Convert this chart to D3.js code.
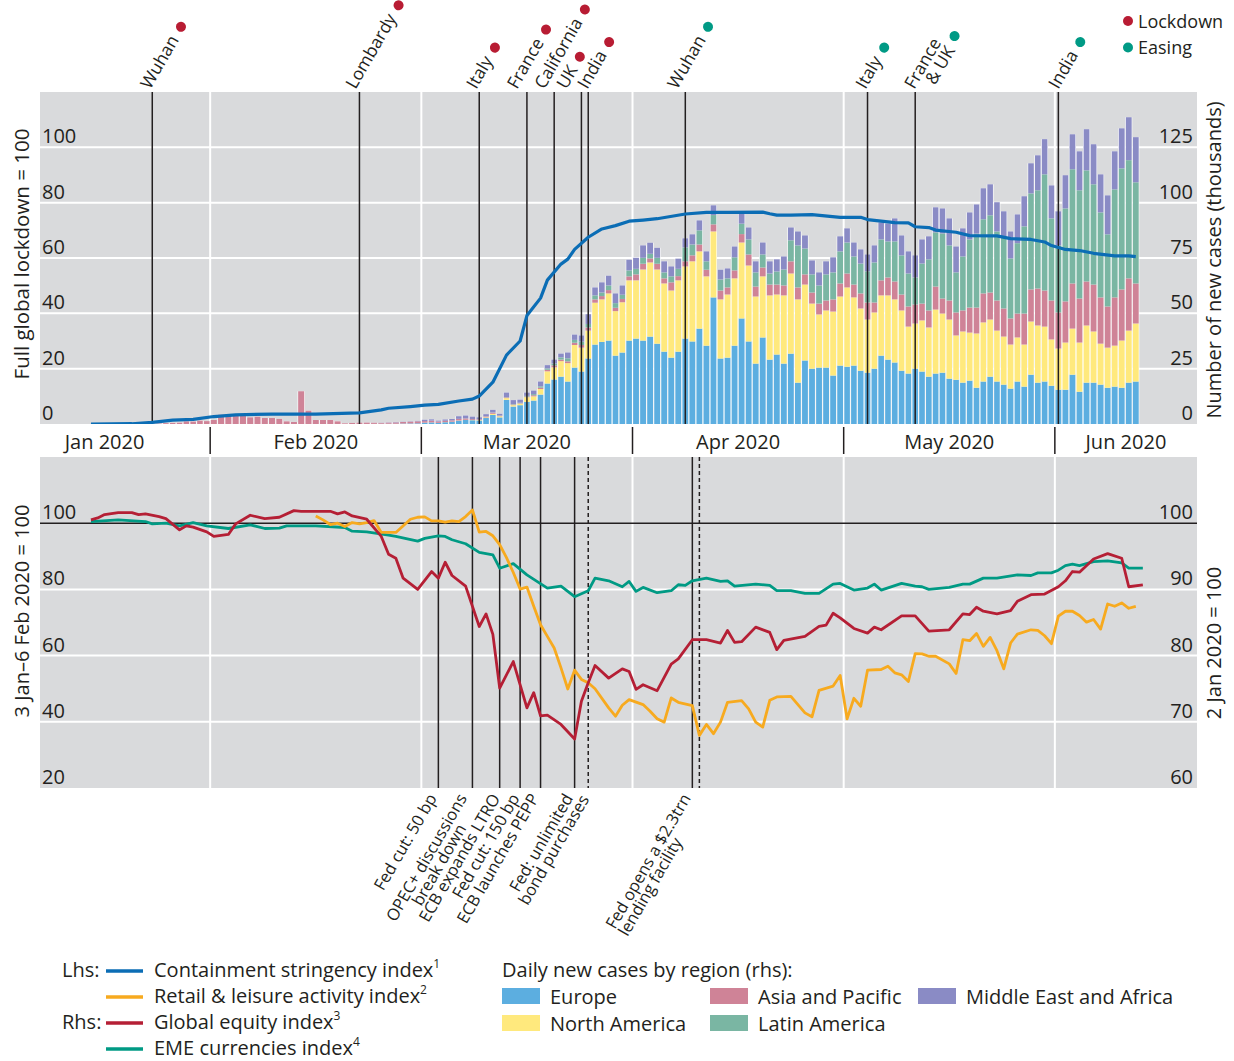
<!DOCTYPE html>
<html>
<head>
<meta charset="utf-8">
<script src="https://cdn.jsdelivr.net/npm/d3@7"></script>
<style>
  body { margin: 0; background: #fff; }
  svg { display: block; }
  text { font-family: "Open Sans", "Noto Sans", sans-serif; fill: #231f20; }
</style>
</head>
<body>
<svg id="chart" width="1234" height="1061"></svg>
<script>
// ---------------- Data ----------------
// Daily new cases by region (thousands), one value per day from 21 Jan 2020
const caseStart = "2020-01-21";
const europe = [
  0,0,0,0,0,0,0,0,0,0,0,
  0,0,0,0,0,0,0,0,0,0,0,0,0,0,0,0,0,0,0,0,0.01,0.02,0.05,0.1,0.1,0.1,0.2,0.25,0.3,
  0.6,0.7,0.5,0.8,1.0,1.5,1.8,1.7,1.6,2.7,4.1,3.0,10.9,7.9,8.5,10,10.6,13.3,18.3,20.1,21.4,19.2,25.5,23.7,29.6,35.9,37.1,37.7,30.9,32.3,37.7,
  38.6,37.7,39.5,36.3,32.7,30,32.7,38.6,37.3,43.1,35.4,57.2,29.6,30,35.4,47.7,37.3,27.3,39.1,29.1,31.4,27.3,31.8,18.7,28.7,25,25.5,25.5,21.9,26.4,
  25.9,26.4,24.1,23.2,25,30.9,29.1,27.8,24.1,22.8,25,23.7,21.4,22.8,23.2,20.5,20,18.7,19.6,16.4,19.2,21.4,19.2,17.8,16,19.2,16.9,22.3,18.7,19.2,17.3,
  15.5,15.5,22.3,14.6,18.7,18.7,17.8,16.4,16.9,16.4,18.7,19.2
];
const northAmerica = [
  0,0,0,0,0,0,0,0,0,0,0,
  0,0,0,0,0,0,0,0,0,0,0,0,0,0,0,0,0,0,0,0,0,0,0,0,0,0,0,0,0,
  0.02,0.02,0.03,0.05,0.05,0.1,0.1,0.1,0.2,0.3,0.5,0.5,0.8,0.6,0.7,2.1,1.9,2.5,5.5,5.5,7.0,8.3,10.2,10.8,12.6,18.9,19.2,21.3,20.1,22.7,27.2,
  26.3,32.1,33.5,33.5,30.8,30.3,32.2,32.6,36.2,34.9,31.3,29.8,26.7,28.5,30.4,34.3,34.3,30.3,27.6,29.0,27.1,30.8,36.2,37.6,34.3,29.4,24.0,25.8,28.9,31.2,
  35.8,30.8,28.1,24.0,25.4,27.2,29.0,28.5,27.2,21.2,20.4,23.1,22.2,28.9,26.7,26.7,20.0,23.1,21.7,24.5,26.7,25.8,23.0,21.7,19.9,19.9,19.0,24.0,25.8,24.8,20.9,
  18.6,21.3,20.8,22.2,25.8,23.1,18.5,18.1,18.5,21.3,23.5,26.2
];
const asiaPacific = [
  0.05,0.1,0.1,0.2,0.4,0.5,0.6,1.2,1.1,1.5,1.3,
  1.8,4.2,3.8,3.8,3.8,3.0,3.3,2.7,2.7,2.3,1.2,0.9,14.8,6.0,1.8,1.8,1.8,1.2,0.3,0.5,0.6,0.6,0.5,0.4,0.5,0.6,0.7,0.8,0.9,
  0.7,0.8,0.6,0.6,0.6,0.7,0.6,0.4,0.3,0.4,0.5,0.2,0.3,0.3,0.2,0.3,0.5,0.6,0.7,0.9,0.7,0.8,1.0,1.2,1.4,1.5,1.5,1.5,1.5,1.5,1.8,
  2.7,2.6,1.8,2.6,2.3,3.7,1.9,2.3,2.7,3.1,3.0,3.2,4.0,3.2,3.6,3.8,5.0,4.5,4.0,4.9,4.5,4.5,5.5,5.4,4.6,5.0,4.9,4.5,5.5,5.9,
  6.3,5.8,6.8,7.7,4.5,6.8,8.1,8.1,7.2,9.1,8.6,7.6,7.7,10.4,6.8,8.6,10.4,9.5,11.3,11.7,13.1,12.2,13.6,12.7,11.8,10.8,14.0,14.5,16.7,16.3,17.6,
  16.3,18.6,20.4,19.9,19.9,21.2,20.9,18.6,21.8,23.1,23.6,18.1
];
const latinAmerica = [
  0,0,0,0,0,0,0,0,0,0,0,
  0,0,0,0,0,0,0,0,0,0,0,0,0,0,0,0,0,0,0,0,0,0,0,0,0,0,0,0,0,
  0,0,0,0.01,0.01,0.02,0.03,0.03,0.03,0.05,0.1,0.1,0.1,0.2,0.2,0.3,0.5,0.6,0.6,0.8,1.0,1.4,1.3,1.5,1.6,1.8,1.6,2.1,2.1,1.9,2.7,
  2.5,2.7,2.1,2.7,2.7,2.7,3.3,6.3,4.9,6.4,3.8,4.2,5.0,4.1,5.9,4.7,6.8,6.4,5.9,5.0,5.9,7.2,9.5,19.0,11.7,8.2,8.2,11.8,12.2,14.5,
  14.0,12.7,13.5,14.1,18.1,18.5,16.3,18.1,17.7,14.9,12.2,18.1,23.1,24.5,29.4,24.9,18.1,24.4,30.8,33.4,33.5,34.9,31.2,32.6,27.1,31.8,39.4,43.4,44.4,52.5,37.1,
  30.3,42.0,51.6,48.9,50.2,45.3,38.4,32.6,48.8,54.7,53.4,45.7
];
const middleEastAfrica = [
  0,0,0,0,0,0,0,0,0,0,0,
  0,0,0,0,0,0,0,0,0,0,0,0,0,0,0,0,0,0,0,0,0.01,0.02,0.03,0.05,0.1,0.15,0.1,0.15,0.2,
  0.6,0.6,0.4,0.6,0.6,1.2,1.3,1.1,0.9,1.0,1.2,0.8,2.1,1.8,1.4,1.5,1.6,2.2,1.5,1.8,1.7,2.6,2.4,2.8,4.4,3.6,4.6,4.4,4.4,4.2,4.8,
  5.0,5.6,5.0,4.5,5.0,4.5,4.6,4.1,4.6,4.5,4.5,4.4,4.4,4.5,4.9,4.8,5.4,5.0,5.4,5.5,5.5,5.9,5.8,6.3,5.9,6.3,5.9,5.9,6.8,6.8,
  6.4,6.3,6.4,7.6,7.7,7.7,8.1,10.4,9.0,10,10,10.9,10.4,11.3,11.3,12.2,11.7,12.7,12.2,13.2,14.0,14.0,13.2,11.3,12.2,13.0,13.6,13.6,15.8,15.9,14.9,
  15.4,15.0,15.8,17.6,18.6,18.1,17.2,17.6,17.2,18.1,19.4,20.4
];
const regionNames = ["Europe", "North America", "Asia and Pacific", "Latin America", "Middle East and Africa"];

// Containment stringency index (lhs, full global lockdown = 100)
const stringencyDates = ["01-14","01-20","01-23","01-26","01-29","02-01","02-04","02-09","02-15","02-21","02-24","02-25","02-28",
  "03-01","03-03","03-06","03-08","03-09","03-11","03-13","03-15","03-16","03-18","03-19","03-21","03-22","03-23","03-25","03-27","03-29","03-31",
  "04-02","04-04","04-08","04-11","04-14","04-19","04-20","04-21","04-23","04-26","04-30",
  "05-03","05-04","05-08","05-10","05-11","05-13","05-14","05-17","05-19","05-23","05-25","05-28","05-30","05-31",
  "06-02","06-04","06-06","06-09","06-11","06-12"];
const stringencyValues = [0,0.1,0.6,1.4,1.7,2.7,3.3,3.6,3.6,4.0,5.1,5.7,6.3,
  6.8,7.1,8.3,9.0,10.1,15.1,24.9,30.0,39.2,45.5,52.0,57.8,59.6,63.1,67.5,70.5,71.7,73.3,
  73.7,74.2,75.9,76.5,76.5,76.6,76.0,75.5,75.5,75.7,74.7,
  74.7,73.9,72.8,72.7,71.3,71.0,70.1,69.3,68.1,68.0,67.0,66.7,65.8,64.5,
  63.1,62.7,61.7,60.8,60.8,60.5];

// Retail & leisure activity index (lhs, 3 Jan-6 Feb 2020 = 100)
const retailDates = ["02-15","02-16","02-17","02-18","02-19","02-20","02-21","02-22","02-23","02-24","02-26","02-28","02-29",
  "03-01","03-02","03-03","03-04","03-05","03-06","03-07","03-08","03-09","03-10","03-11","03-12","03-13","03-14","03-15","03-16","03-17","03-18","03-19","03-20","03-21","03-22","03-23","03-24","03-25","03-26","03-28","03-29","03-30","03-31",
  "04-02","04-03","04-04","04-05","04-06","04-07","04-09","04-10","04-11","04-12","04-13","04-14","04-16","04-17","04-18","04-19","04-20","04-21","04-23","04-25","04-26","04-27","04-29","04-30",
  "05-01","05-02","05-03","05-04","05-06","05-07","05-08","05-09","05-10","05-11","05-12","05-13","05-14","05-16","05-17","05-18","05-19","05-20","05-21","05-22","05-23","05-24","05-25","05-26","05-28","05-29","05-30","05-31",
  "06-01","06-02","06-03","06-04","06-05","06-06","06-07","06-08","06-09","06-10","06-11","06-12"];
const retailValues = [102.2,101.0,99.6,100.0,99.0,100.2,99.8,100.2,100.8,97.2,97.2,101.2,101.8,
  101.9,100.7,100.7,100.3,100.7,100.5,102.0,104.0,97.3,97.5,96.2,93.5,89.6,85.1,80.1,80.7,74.9,69.3,65.8,62.3,56.3,49.9,55.6,52.8,51.8,50.0,44.2,41.7,45.0,46.7,
  45.2,43.2,40.9,39.9,47.2,45.9,44.9,35.9,39.2,36.4,39.9,45.9,46.4,43.9,39.9,38.4,46.5,47.5,47.7,42.7,41.5,49.5,50.8,54.0,
  40.9,47.1,44.7,55.6,55.8,56.8,54.8,54.2,52.2,60.6,60.5,59.8,59.8,57.5,54.6,64.8,64.5,66.7,62.8,65.5,61.5,56.0,63.8,66.5,67.8,67.6,66.0,63.6,
  71.9,73.4,73.4,72.1,70.1,70.9,68.0,75.6,74.9,75.9,74.3,74.9];

// Global equity index (rhs, 2 Jan 2020 = 100)
const equityDates = ["01-14","01-15","01-16","01-18","01-20","01-21","01-22","01-24","01-25","01-27","01-28","01-29","01-31",
  "02-01","02-03","02-04","02-06","02-08","02-10","02-12","02-13","02-17","02-18","02-19","02-20","02-22","02-24","02-25","02-26","02-27","02-29",
  "03-02","03-03","03-04","03-05","03-07","03-09","03-10","03-11","03-12","03-14","03-16","03-17","03-18","03-19","03-21","03-23","03-24","03-25","03-26","03-28","03-30","03-31",
  "04-01","04-02","04-04","04-06","04-07","04-09","04-11","04-13","04-14","04-15","04-16","04-18","04-20","04-21","04-22","04-25","04-27","04-28","04-29","04-30",
  "05-02","05-04","05-05","05-06","05-09","05-11","05-13","05-16","05-18","05-19","05-20","05-21","05-23","05-25","05-26","05-28","05-30",
  "06-01","06-02","06-03","06-04","06-06","06-08","06-10","06-11","06-13"];
const equityValues = [100.5,100.8,101.3,101.6,101.6,101.3,101.4,101.0,100.7,99.0,99.6,99.4,98.7,
  98.0,98.3,99.9,101.2,100.7,100.9,101.9,101.8,101.8,101.4,101.7,101.1,100.6,98.0,95.3,94.7,91.7,90.0,
  92.7,91.7,94.1,92.1,90.5,84.4,86.3,83.2,75.1,79.1,72.1,74.4,70.9,71.0,69.6,67.4,73.1,75.9,78.5,76.6,78.0,77.6,
  74.9,75.6,74.7,78.7,79.5,82.4,82.4,81.9,83.8,82.0,82.1,84.3,83.5,80.9,82.3,82.9,84.4,84.6,86.4,85.7,
  84.1,83.4,84.3,83.9,86.0,86.0,83.7,83.9,86.3,86.2,87.3,86.7,86.3,86.8,88.2,89.2,89.3,
  90.4,91.3,92.7,92.6,94.6,95.4,94.7,90.4,90.7];

// EME currencies index (rhs, 2 Jan 2020 = 100)
const fxDates = ["01-14","01-18","01-22","01-23","01-25","01-27","01-29","01-31",
  "02-03","02-06","02-08","02-10","02-11","02-15","02-19","02-20","02-22","02-25","02-26","02-29",
  "03-01","03-03","03-04","03-05","03-07","03-09","03-11","03-12","03-14","03-16","03-19","03-21","03-23","03-25","03-26","03-28","03-30","03-31",
  "04-01","04-02","04-04","04-06","04-07","04-08","04-09","04-11","04-13","04-14","04-15","04-18","04-20","04-21","04-23","04-25","04-27","04-29","04-30",
  "05-02","05-04","05-05","05-06","05-09","05-11","05-12","05-13","05-16","05-18","05-19","05-21","05-23","05-26","05-28","05-29","05-31",
  "06-01","06-02","06-03","06-04","06-06","06-08","06-10","06-11","06-13"];
const fxValues = [100.25,100.5,100.25,99.9,100.0,99.6,100.1,99.6,
  99.2,99.75,99.2,99.25,99.6,99.6,99.35,98.8,98.7,98.2,98.0,97.3,
  97.7,98.1,98.0,97.5,96.9,95.6,95.2,93.2,93.9,92.2,90.2,90.5,88.9,89.8,91.7,91.3,90.4,91.2,
  89.7,90.3,89.5,89.8,90.7,90.6,91.3,91.7,91.2,91.3,90.5,90.8,90.6,89.8,89.8,89.4,89.4,90.8,90.9,
  89.9,90.2,90.8,89.9,90.9,90.5,90.4,90.0,90.3,90.8,90.8,91.7,91.7,92.2,92.1,92.5,92.5,
  92.9,93.6,93.8,93.6,94.2,94.3,94.0,93.2,93.2];

// Lockdown and easing events (top panel)
const lockdownNames = [["Wuhan"],["Lombardy"],["Italy"],["France"],["California"],["UK"],["India"]];
const lockdownDates = ["01-23","02-21","03-09","03-16","03-20","03-24","03-25"];
const easingNames = [["Wuhan"],["Italy"],["France","& UK"],["India"]];
const easingDates = ["04-08","05-04","05-11","06-01"];

// Policy events (bottom panel)
const policyNames = [["Fed cut: 50 bp"],["OPEC+ discussions","break down"],["ECB expands LTRO"],["Fed cut: 150 bp"],
  ["ECB launches PEPP"],["Fed: unlimited","bond purchases"],["Fed opens a $2.3trn","lending facility"]];
const policyDates = ["03-03","03-08","03-12","03-15","03-18","03-23","04-09"];
const dashedDates = ["03-25","04-10"];

// Axis ticks
const topLeftTicks = [0,20,40,60,80,100];
const topRightTicks = [0,25,50,75,100,125];
const botLeftTicks = [20,40,60,80,100];
const botRightTicks = [60,70,80,90,100];

// ---------------- Layout & styles ----------------
const colors = {
  europe: "#5caee0", northAmerica: "#ffe97d", asiaPacific: "#cf8397",
  latinAmerica: "#7ab6a3", middleEastAfrica: "#8a8bc5",
  stringency: "#0b6db5", retail: "#f7aa1f", equity: "#b51f35", fx: "#009a84",
  lockdown: "#b81c33", easing: "#009a85", panel: "#d9dadc", ink: "#231f20"
};
const regionKeys = ["europe","northAmerica","asiaPacific","latinAmerica","middleEastAfrica"];
const plotL = 40, plotR = 1197;
const topP = { t: 92, b: 424 }, botP = { t: 457, b: 788 };
const labelNudgeLock = [-2, -4, -3, -10, -10, -15, -1];
const labelNudgeEase = [-8, -2, -1, 0];
const policyNudge = [0, -4, 2, 1, 0, 0, 0];
const policyAlign = ["end", "middle", "end", "end", "end", "middle", "start"];

const parse = d3.timeParse("%Y-%m-%d");
const day = s => parse("2020-" + s);
const mid = d => d3.timeHour.offset(d, 12);

// Equal-width months on the time axis
const months = d3.timeMonth.range(new Date(2020, 0, 1), new Date(2020, 7, 1));
const monthW = 211.17;
const x = d3.scaleTime().domain(months).range(months.map((m, i) => -1 + i * monthW));

const yTopL = d3.scaleLinear().domain([0, 120]).range([topP.b, topP.t]);
const yTopR = d3.scaleLinear().domain([0, 150]).range([topP.b, topP.t]);
const yBotL = d3.scaleLinear().domain([20, 120]).range([botP.b, botP.t]);
const yBotR = d3.scaleLinear().domain([60, 110]).range([botP.b, botP.t]);

const svg = d3.select("#chart");
const defs = svg.append("defs");
defs.append("clipPath").attr("id", "clipTop").append("rect")
  .attr("x", plotL).attr("y", topP.t).attr("width", plotR - plotL).attr("height", topP.b - topP.t);
defs.append("clipPath").attr("id", "clipBot").append("rect")
  .attr("x", plotL).attr("y", botP.t).attr("width", plotR - plotL).attr("height", botP.b - botP.t);

const monthBounds = months.slice(1, 6); // Feb 1 .. Jun 1

// ---------- panel backgrounds and grids ----------
function panel(p, ticks, yScale) {
  const g = svg.append("g");
  g.append("rect").attr("x", plotL).attr("y", p.t).attr("width", plotR - plotL).attr("height", p.b - p.t)
    .attr("fill", colors.panel);
  g.selectAll("line.h").data(ticks).join("line")
    .attr("x1", plotL).attr("x2", plotR)
    .attr("y1", d => yScale(d)).attr("y2", d => yScale(d))
    .attr("stroke", "#fff").attr("stroke-width", 2);
  g.selectAll("line.v").data(monthBounds).join("line")
    .attr("x1", d => x(d)).attr("x2", d => x(d))
    .attr("y1", p.t).attr("y2", p.b)
    .attr("stroke", "#fff").attr("stroke-width", 2);
  return g;
}
panel(topP, topLeftTicks.filter(v => v > 0), yTopL);
panel(botP, botLeftTicks.filter(v => v > 20 && v < 100), yBotL);

// ---------- stacked case bars ----------
const caseDays = europe.map((v, i) => d3.timeDay.offset(parse(caseStart), i));
const rows = caseDays.map((d, i) => ({
  date: d, europe: europe[i], northAmerica: northAmerica[i], asiaPacific: asiaPacific[i],
  latinAmerica: latinAmerica[i], middleEastAfrica: middleEastAfrica[i]
}));
const series = d3.stack().keys(regionKeys)(rows);
const total = d => regionKeys.reduce((s, k) => s + d[k], 0);
const barsG = svg.append("g").attr("clip-path", "url(#clipTop)");
barsG.selectAll("rect.back").data(rows).join("rect")
  .attr("x", d => x(d.date)).attr("width", d => x(d3.timeDay.offset(d.date, 1)) - x(d.date))
  .attr("y", d => yTopR(total(d)))
  .attr("height", d => yTopR(0) - yTopR(total(d)))
  .attr("fill", "#fff");
barsG.selectAll("g.layer").data(series).join("g")
  .attr("fill", s => colors[s.key])
  .selectAll("rect").data(s => s).join("rect")
  .attr("x", d => x(d.data.date) + 0.6)
  .attr("width", d => x(d3.timeDay.offset(d.data.date, 1)) - x(d.data.date) - 1.2)
  .attr("y", d => yTopR(d[1]))
  .attr("height", d => Math.max(0, yTopR(d[0]) - yTopR(d[1])));

// ---------- event lines, top panel ----------
const evG = svg.append("g");
[...lockdownDates, ...easingDates].forEach(s => {
  const px = x(mid(day(s)));
  evG.append("line").attr("x1", px).attr("x2", px).attr("y1", topP.t).attr("y2", topP.b)
    .attr("stroke", colors.ink).attr("stroke-width", 1.5);
});

// stringency line
const lineTopG = svg.append("g").attr("clip-path", "url(#clipTop)");
lineTopG.append("path")
  .datum(stringencyDates.map((s, i) => [day(s), stringencyValues[i]]))
  .attr("fill", "none").attr("stroke", colors.stringency).attr("stroke-width", 3.2)
  .attr("stroke-linejoin", "round")
  .attr("d", d3.line().x(d => x(mid(d[0]))).y(d => yTopL(d[1])));

// event labels with dots, top panel
function topLabel(lines, s, nudge, dotColor) {
  const px = x(mid(day(s))) + nudge;
  const g = svg.append("g").attr("transform", `translate(${px},90) rotate(-60)`)
    .style("font-size", "17.5px");
  const t1 = g.append("text").attr("x", 0).attr("y", 0).text(lines[0]);
  const L1 = t1.node().getComputedTextLength();
  if (lines[1]) {
    g.append("text").attr("x", L1).attr("y", 16).attr("text-anchor", "end").text(lines[1]);
  }
  g.append("circle").attr("cx", L1 + 12).attr("cy", lines[1] ? 8 : -5).attr("r", 5).attr("fill", dotColor);
}
lockdownNames.forEach((n, i) => topLabel(n, lockdownDates[i], labelNudgeLock[i], colors.lockdown));
easingNames.forEach((n, i) => topLabel(n, easingDates[i], labelNudgeEase[i], colors.easing));

// legend for the event dots
const dotLegend = [["Lockdown", colors.lockdown], ["Easing", colors.easing]];
dotLegend.forEach((d, i) => {
  svg.append("circle").attr("cx", 1128).attr("cy", 21 + i * 26.5).attr("r", 5).attr("fill", d[1]);
  svg.append("text").attr("x", 1138).attr("y", 27.5 + i * 26.5).style("font-size", "18px").text(d[0]);
});

// ---------- top axes ----------
const axT = svg.append("g").style("font-size", "20px");
axT.selectAll("text.l").data(topLeftTicks).join("text")
  .attr("x", 42).attr("y", d => yTopL(d) - 4).text(d => d);
axT.selectAll("text.r").data(topRightTicks).join("text")
  .attr("x", 1193).attr("y", d => yTopR(d) - 4).attr("text-anchor", "end").text(d => d);
axT.append("text").attr("transform", "translate(29,254) rotate(-90)").attr("text-anchor", "middle")
  .style("font-size", "20.5px").text("Full global lockdown = 100");
axT.append("text").attr("transform", "translate(1221,260) rotate(-90)").attr("text-anchor", "middle")
  .text("Number of new cases (thousands)");

// ---------- month axis between panels ----------
const axM = svg.append("g").style("font-size", "20px");
axM.selectAll("line").data(monthBounds).join("line")
  .attr("x1", d => x(d)).attr("x2", d => x(d)).attr("y1", 427).attr("y2", 454)
  .attr("stroke", colors.ink).attr("stroke-width", 1.5);
const monthLabels = months.slice(0, 6);
axM.selectAll("text").data(monthLabels).join("text")
  .attr("x", d => {
    const a = x(d), b = Math.min(x(d3.timeMonth.offset(d, 1)), plotR);
    return (a + b) / 2;
  })
  .attr("y", 449).attr("text-anchor", "middle")
  .text(d3.timeFormat("%b %Y"));

// ---------- bottom panel ----------
const botG = svg.append("g");
policyDates.forEach(s => {
  const px = x(mid(day(s)));
  botG.append("line").attr("x1", px).attr("x2", px).attr("y1", botP.t).attr("y2", botP.b)
    .attr("stroke", colors.ink).attr("stroke-width", 1.5);
});
dashedDates.forEach(s => {
  const px = x(mid(day(s)));
  botG.append("line").attr("x1", px).attr("x2", px).attr("y1", botP.t).attr("y2", botP.b)
    .attr("stroke", colors.ink).attr("stroke-width", 1.5).attr("stroke-dasharray", "4,3");
});
botG.append("line").attr("x1", plotL).attr("x2", plotR).attr("y1", yBotL(100)).attr("y2", yBotL(100))
  .attr("stroke", colors.ink).attr("stroke-width", 1.5);

const linesBot = svg.append("g").attr("clip-path", "url(#clipBot)");
function drawLine(dates, values, yScale, color) {
  linesBot.append("path")
    .datum(dates.map((s, i) => [day(s), values[i]]))
    .attr("fill", "none").attr("stroke", color).attr("stroke-width", 2.8)
    .attr("stroke-linejoin", "round")
    .attr("d", d3.line().x(d => x(mid(d[0]))).y(d => yScale(d[1])));
}
drawLine(fxDates, fxValues, yBotR, colors.fx);
drawLine(retailDates, retailValues, yBotL, colors.retail);
drawLine(equityDates, equityValues, yBotR, colors.equity);

const axB = svg.append("g").style("font-size", "20px");
axB.selectAll("text.l").data(botLeftTicks).join("text")
  .attr("x", 42).attr("y", d => yBotL(d) - 4).text(d => d);
axB.selectAll("text.r").data(botRightTicks).join("text")
  .attr("x", 1193).attr("y", d => yBotR(d) - 4).attr("text-anchor", "end").text(d => d);
axB.append("text").attr("transform", "translate(29,611) rotate(-90)").attr("text-anchor", "middle")
  .text("3 Jan\u20136 Feb 2020 = 100");
axB.append("text").attr("transform", "translate(1221,643) rotate(-90)").attr("text-anchor", "middle")
  .text("2 Jan 2020 = 100");

// policy labels hanging below the bottom panel
policyNames.forEach((lines, i) => {
  const px = x(mid(day(policyDates[i]))) + policyNudge[i];
  const g = svg.append("g").attr("transform", `translate(${px - 1},798) rotate(-60)`)
    .style("font-size", "16.5px");
  const t1 = g.append("text").attr("text-anchor", "end").text(lines[0]);
  const L1 = t1.node().getComputedTextLength();
  if (lines[1]) {
    const al = policyAlign[i];
    const lx = al === "middle" ? -L1 / 2 : (al === "start" ? -L1 : 0);
    g.append("text").attr("x", lx).attr("y", 14.5).attr("text-anchor", al).text(lines[1]);
  }
});

// ---------- legend ----------
const leg = svg.append("g").style("font-size", "20px");
const lineLegend = [
  ["Lhs:", colors.stringency, "Containment stringency index", "1"],
  ["", colors.retail, "Retail & leisure activity index", "2"],
  ["Rhs:", colors.equity, "Global equity index", "3"],
  ["", colors.fx, "EME currencies index", "4"]
];
lineLegend.forEach((d, i) => {
  const by = 977 + i * 26;
  if (d[0]) leg.append("text").attr("x", 62).attr("y", by).text(d[0]);
  leg.append("line").attr("x1", 106).attr("x2", 143).attr("y1", by - 6).attr("y2", by - 6)
    .attr("stroke", d[1]).attr("stroke-width", 3.5);
  const t = leg.append("text").attr("x", 154).attr("y", by);
  t.append("tspan").text(d[2]);
  t.append("tspan").attr("dy", -9).style("font-size", "12px").text(d[3]);
});
leg.append("text").attr("x", 502).attr("y", 977).text("Daily new cases by region (rhs):");
const sqPos = [[502, 0], [502, 1], [710, 0], [710, 1], [918, 0]];
regionKeys.forEach((k, i) => {
  const [sx, row] = sqPos[i];
  const sy = 988 + row * 27;
  leg.append("rect").attr("x", sx).attr("y", sy).attr("width", 38).attr("height", 16).attr("fill", colors[k]);
  leg.append("text").attr("x", sx + 48).attr("y", sy + 15.5).text(regionNames[i]);
});
</script>
</body>
</html>
